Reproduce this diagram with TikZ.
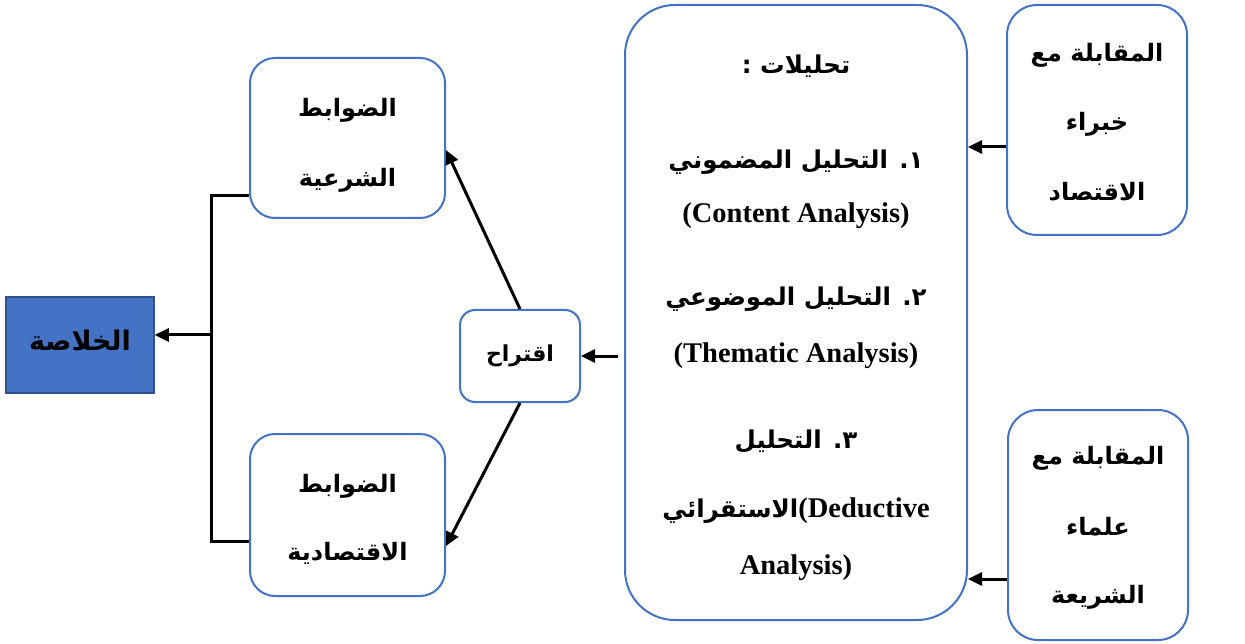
\documentclass[tikz,border=0pt]{standalone}
\usepackage{fontspec}
\setmainfont{Liberation Serif}
\newfontfamily\arabicfont[Script=Arabic]{DejaVu Sans}
\TeXXeTstate=1
\usetikzlibrary{arrows.meta,calc}
\definecolor{boxblue}{HTML}{4472C4}
\definecolor{darkblue}{HTML}{2F528F}
\newcommand{\ar}[1]{{\arabicfont\bfseries\beginR #1\endR}}
\begin{document}
\begin{tikzpicture}[x=1pt,y=-1pt,
  rbox/.style={draw=boxblue, line width=2pt, fill=white, rounded corners=#1, inner sep=0pt},
  txt/.style={inner sep=0pt, font=\fontsize{24}{28}\selectfont},
  btxt/.style={inner sep=0pt, font=\fontsize{24.5}{29}\selectfont},
  ltxt/.style={inner sep=0pt, font=\fontsize{28.5}{32}\selectfont\bfseries},
  conn/.style={line width=3pt},
  arr/.style={line width=3pt, -{Triangle[length=14pt,width=13pt]}}
]
\useasboundingbox (0,0) rectangle (1245,644);
% boxes
\node[draw=darkblue, line width=1.5pt, fill=boxblue, minimum width=148pt, minimum height=96pt, inner sep=0pt] (khul) at (80,345) {};
\node[rbox=25pt, minimum width=195pt, minimum height=160pt] (shar) at (347.5,138) {};
\node[rbox=25pt, minimum width=195pt, minimum height=162pt] (eco) at (347.5,515) {};
\node[rbox=15pt, minimum width=120pt, minimum height=92pt] (iqt) at (520,356) {};
\node[rbox=50pt, minimum width=342pt, minimum height=615pt] (big) at (796,312.5) {};
\node[rbox=30pt, minimum width=180pt, minimum height=230pt] (rt) at (1097,120) {};
\node[rbox=30pt, minimum width=180pt, minimum height=230pt] (rb) at (1098,525) {};
% texts
\node[inner sep=0pt, font=\fontsize{27}{30}\selectfont] (tkhul) at (80,340) {\ar{الخلاصة}};
\node[txt] (tshar1) at (347.5,110) {\ar{الضوابط}};
\node[txt] (tshar2) at (347.5,180) {\ar{الشرعية}};
\node[txt] (teco1) at (347.5,486) {\ar{الضوابط}};
\node[txt] (teco2) at (347.5,553) {\ar{الاقتصادية}};
\node[inner sep=0pt, font=\fontsize{22}{26}\selectfont] (tiqt) at (520,356) {\ar{اقتراح}};
\node[btxt] (tb0) at (796,66) {\ar{تحليلات :}};
\node[btxt] (tb1) at (796,162) {\ar{١. التحليل المضموني}};
\node[ltxt] (tb2) at (796,216) {(Content Analysis)};
\node[btxt] (tb3) at (796,299) {\ar{٢. التحليل الموضوعي}};
\node[ltxt] (tb4) at (796,356) {(Thematic Analysis)};
\node[btxt] (tb5) at (796,441) {\ar{٣. التحليل}};
\node[ltxt] (tb6) at (796,511) {\hbox{\ar{\fontsize{24.5}{29}\selectfont الاستقرائي}}\kern0pt\hbox{\beginL(Deductive\endL}};
\node[ltxt] (tb7) at (796,568) {Analysis)};
\node[txt] (trt1) at (1097,55) {\ar{المقابلة مع}};
\node[txt] (trt2) at (1097,124) {\ar{خبراء}};
\node[txt] (trt3) at (1097,192) {\ar{الاقتصاد}};
\node[txt] (trb1) at (1098,458) {\ar{المقابلة مع}};
\node[txt] (trb2) at (1098,527) {\ar{علماء}};
\node[txt] (trb3) at (1098,597) {\ar{الشريعة}};
% connectors
\coordinate (jn) at (211,335);
\draw[conn] ($(shar.west)+(0,58)$) -| (jn) |- ($(eco.west)+(0,26)$);
\draw[arr] (jn) -- (khul.east |- jn);
\draw[arr] (big.west |- iqt.east) ++(-6,0) -- (iqt.east);
\draw[arr] (iqt.north) -- ($(shar.east)+(0,12)$);
\draw[arr] (iqt.south) -- ($(eco.east)+(0,31)$);
\draw[arr] ($(rt.west)+(0,27)$) -- ($(big.east)+(0,-165.5)$);
\draw[arr] ($(rb.west)+(0,54)$) -- ($(big.east)+(0,266.5)$);
\end{tikzpicture}
\end{document}
